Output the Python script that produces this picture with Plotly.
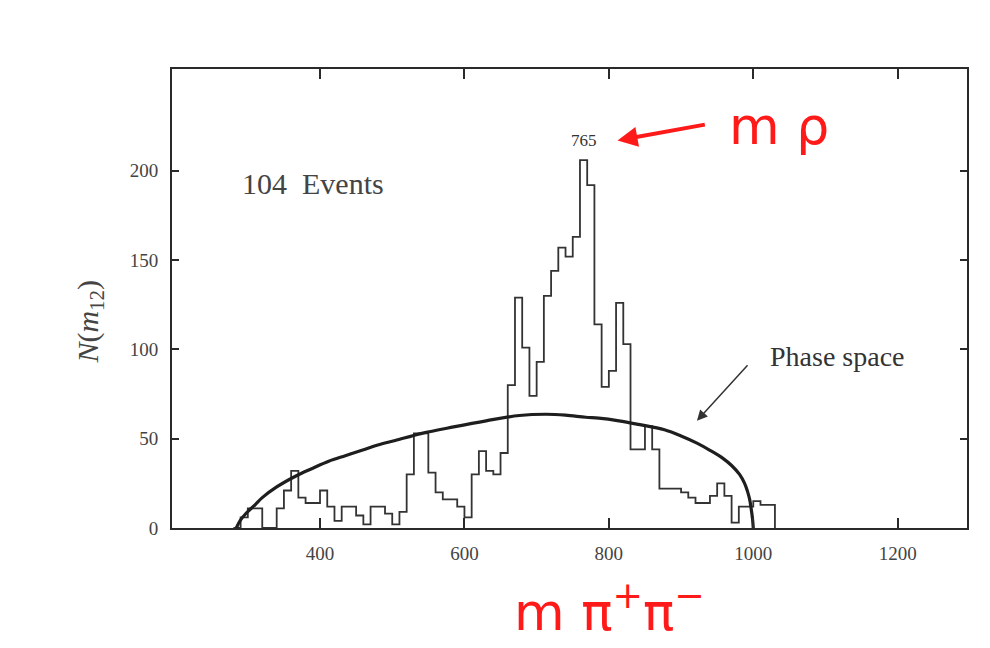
import plotly.graph_objects as go

# Histogram of pi+ pi- invariant mass (10 MeV bins, left edges)
bin_left = list(range(280, 1030, 10))
counts = [0, 6, 11, 11, 0, 0, 11, 21, 32, 17, 14, 14, 21, 12, 4, 12, 12, 7, 2, 12,
          12, 8, 2, 9, 30, 53, 53, 31, 20, 16, 16, 12, 6, 30, 43, 32, 30, 42, 80, 129,
          101, 74, 93, 130, 144, 157, 152, 163, 206, 192, 114, 79, 88, 126, 103, 44, 44,
          57, 44, 22, 22, 22, 20, 17, 14, 14, 18, 25, 18, 3, 12, 12, 15, 13, 13]
bin_width = 10

# Phase-space curve
ps_mass = [284, 290, 298, 310, 320, 340, 366, 390, 412, 435, 458, 480, 504, 541, 585,
           630, 676, 713, 740, 768, 786, 814, 841, 877, 900, 922, 940, 958, 970, 981,
           988, 992, 995, 997, 999, 1000]
ps_counts = [0, 4.5, 8.4, 13, 17, 23, 29, 33.5, 37.4, 40.5, 43.5, 46.5, 49, 53, 56.6,
             60, 63, 63.7, 63.2, 62, 61.5, 60, 58, 55, 51.5, 47.5, 43.5, 39, 35, 30,
             25, 20.5, 16, 11, 5, 0]

x_ticks = [400, 600, 800, 1000, 1200]
y_ticks = [0, 50, 100, 150, 200]
peak_label = "765"
events_label = "104  Events"

# step outline from bin edges
hx = [bin_left[0]] + bin_left + [bin_left[-1] + bin_width]
hy = [0] + counts + [0]

fig = go.Figure()
fig.add_trace(go.Scatter(x=hx, y=hy, mode="lines", line=dict(shape="hv", color="#333333", width=1.8),
                         hoverinfo="skip", showlegend=False))
fig.add_trace(go.Scatter(x=ps_mass, y=ps_counts, mode="lines",
                         line=dict(shape="spline", color="#1e1e1e", width=3.2),
                         hoverinfo="skip", showlegend=False))

serif = "Liberation Serif, Times New Roman, serif"
axis_common = dict(showline=True, linecolor="#2a2a2a", linewidth=2, mirror="ticks",
                   ticks="inside", tickcolor="#2a2a2a", tickwidth=1.5, showgrid=False,
                   zeroline=False, tickfont=dict(family=serif, size=19, color="#444"))
fig.update_xaxes(range=[195, 1296], tickvals=x_ticks, ticklen=10, ticklabelstandoff=7, **axis_common)
fig.update_yaxes(range=[0, 257], tickvals=y_ticks, ticklen=7, ticklabelstandoff=8, **axis_common)

annotations = [
    dict(x=-0.103, y=0.45, xref="paper", yref="paper", text="<i>N</i>(<i>m</i><sub>12</sub>)",
         textangle=-90, showarrow=False, xanchor="center", yanchor="middle",
         font=dict(family=serif, size=30, color="#444")),
    dict(x=289, y=193, xref="x", yref="y", text=events_label, showarrow=False, xanchor="left",
         font=dict(family=serif, size=30, color="#444")),
    dict(x=765, y=217, xref="x", yref="y", text=peak_label, showarrow=False,
         font=dict(family=serif, size=17, color="#333")),
    dict(x=1117, y=96, xref="x", yref="y", text="Phase space", showarrow=False,
         font=dict(family=serif, size=28, color="#333")),
    dict(x=922, y=60, xref="x", yref="y", ax=994, ay=92, axref="x", ayref="y", text="",
         showarrow=True, arrowhead=2, arrowsize=1.4, arrowwidth=1.5, arrowcolor="#333"),
    # red handwritten notes
    dict(x=812, y=217, xref="x", yref="y", ax=935, ay=226, axref="x", ayref="y", text="",
         showarrow=True, arrowhead=2, arrowsize=1.0, arrowwidth=4, arrowcolor="#ff1a1a"),
    dict(x=1035, y=225, xref="x", yref="y", text="m ρ", showarrow=False,
         font=dict(family="DejaVu Sans, sans-serif", size=52, color="#ff1a1a")),
    dict(x=0.55, y=-0.175, xref="paper", yref="paper", text="m π<sup>+</sup>π<sup>−</sup>",
         showarrow=False, yanchor="middle",
         font=dict(family="DejaVu Sans, sans-serif", size=52, color="#ff1a1a")),
]

fig.update_layout(
    width=990, height=648,
    margin=dict(l=164, r=31, t=61, b=128),
    paper_bgcolor="white", plot_bgcolor="white",
    annotations=annotations,
    showlegend=False,
)

fig.write_html("out.html")
